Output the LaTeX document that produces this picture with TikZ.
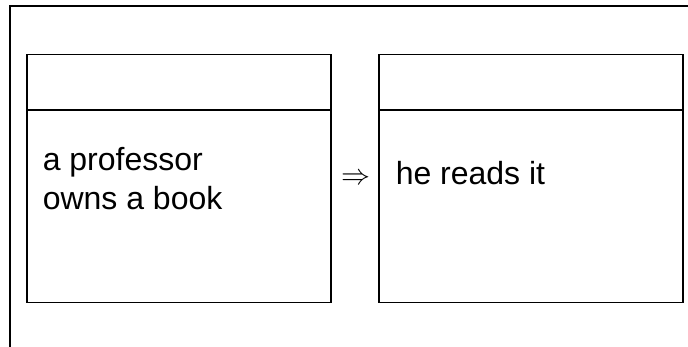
\documentclass[tikz,border=0pt]{standalone}
\usepackage{fontspec}
\setmainfont{Liberation Sans}
\begin{document}
\begin{tikzpicture}[x=1pt,y=-1pt,
  line width=1.5pt,
  drsbox/.style={draw, rectangle, minimum width=304pt, minimum height=248pt, inner sep=0pt},
  drstext/.style={font=\fontsize{32}{39}\selectfont, inner sep=0pt, align=left}
]
\useasboundingbox (0,0) rectangle (688,347);
% outer frame (runs past the page edges on the right and bottom)
\draw (10,360) -- (10,6) -- (700,6);
% left DRS box with its header divider
\node[drsbox, anchor=north west] (boxL) at (26,54) {};
\draw (boxL.north west |- 0,110) coordinate (dL1) -- (boxL.north east |- 0,110) coordinate (dL2);
% right DRS box with its header divider
\node[drsbox, anchor=north west] (boxR) at (378,54) {};
\draw (boxR.north west |- 0,110) coordinate (dR1) -- (boxR.north east |- 0,110) coordinate (dR2);
% contents
\node[drstext, anchor=base west] (condL1) at (42,171) {a professor};
\node[drstext, anchor=base west] (condL2) at (42,210) {owns a book};
\node[drstext, anchor=base west] (condR) at (395,185) {he reads it};
\node[inner sep=0pt] (impl) at (355.5,179) {\scalebox{2.9}{$\Rightarrow$}};
\end{tikzpicture}
\end{document}
